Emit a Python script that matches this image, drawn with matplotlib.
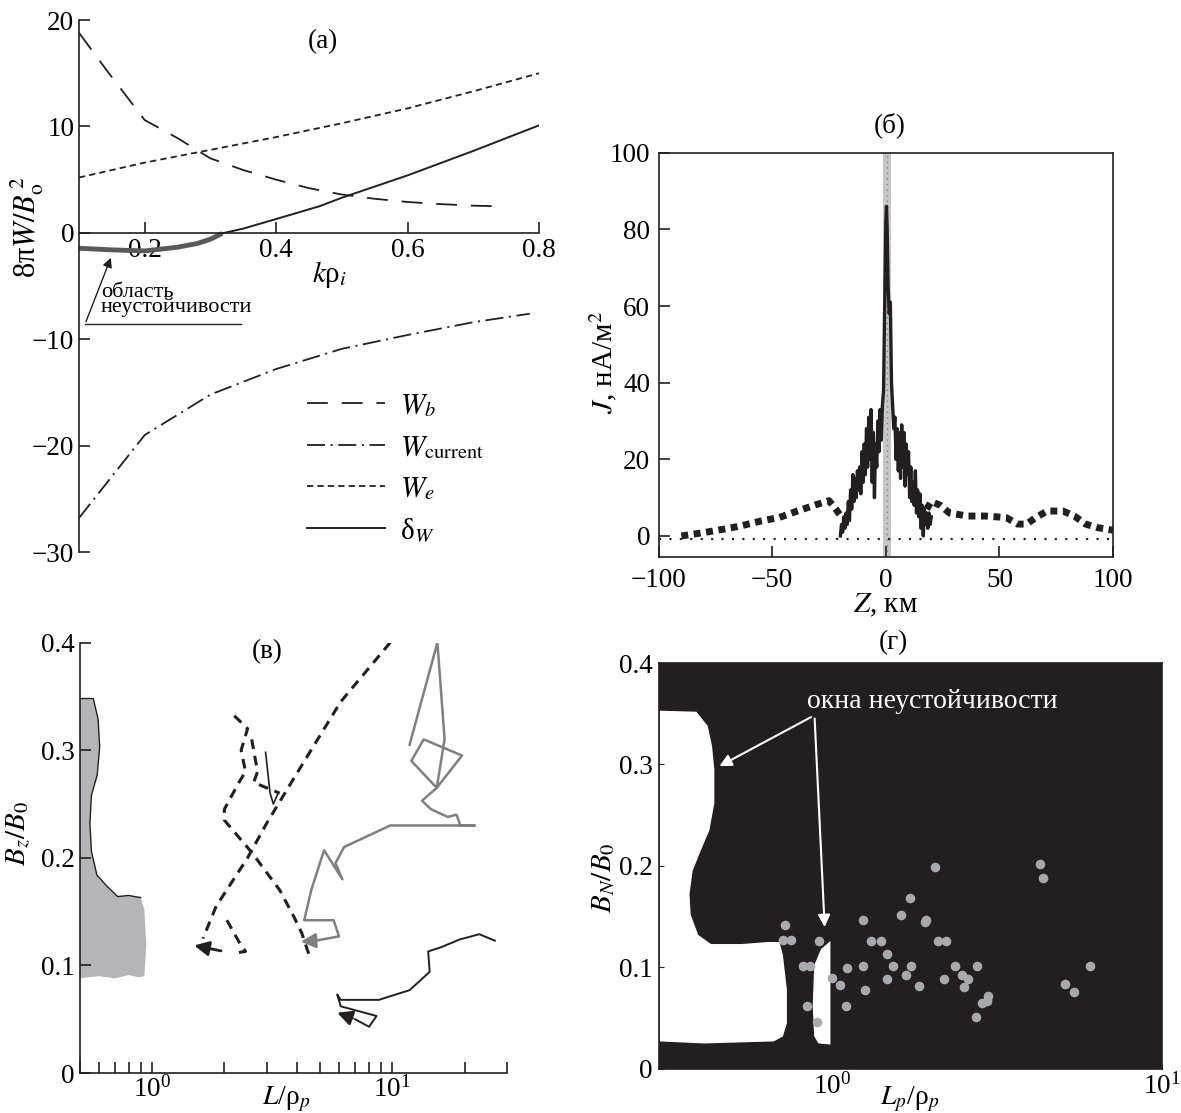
import matplotlib
matplotlib.use('Agg')
import matplotlib.pyplot as plt
import numpy as np

plt.rcParams['font.family'] = ['Liberation Serif', 'DejaVu Serif']
plt.rcParams['mathtext.fontset'] = 'stix'
plt.rcParams['font.size'] = 19.5
plt.rcParams['lines.scale_dashes'] = False

INK = '#231f20'
GRAY = '#808080'

# ---------- (а) energy components ----------
k_b = [0.1, 0.143, 0.2, 0.25, 0.3, 0.35, 0.4, 0.45, 0.5, 0.55, 0.6, 0.65, 0.7, 0.74]
W_b = [18.8, 15.2, 10.6, 8.9, 7.0, 5.9, 5.0, 4.2, 3.6, 3.2, 2.9, 2.7, 2.55, 2.5]
k_e = [0.1, 0.2, 0.3, 0.4, 0.5, 0.6, 0.7, 0.8]
W_e = [5.2, 6.6, 7.8, 9.0, 10.3, 11.7, 13.3, 15.0]
k_c = [0.1, 0.15, 0.2, 0.3, 0.4, 0.5, 0.6, 0.7, 0.786]
W_cur = [-26.8, -22.9, -19.0, -15.2, -12.8, -10.9, -9.6, -8.4, -7.6]
k_unst = [0.1, 0.15, 0.2, 0.25, 0.28, 0.3, 0.318]
dW_unst = [-1.45, -1.6, -1.7, -1.35, -1.0, -0.6, -0.05]
k_st = [0.318, 0.35, 0.4, 0.466, 0.5, 0.6, 0.7, 0.8]
dW_st = [-0.05, 0.4, 1.3, 2.5, 3.3, 5.4, 7.7, 10.1]

# ---------- (б) current density ----------
z_sheet = [-20, -19.5, -19, -18.5, -18, -17.5, -17, -16.5, -16, -15.5, -15, -14.5, -14,
           -13.5, -13, -12.5, -12, -11.5, -11, -10.5, -10, -9.5, -9, -8.5, -8, -7.5, -7,
           -6.5, -6, -5.5, -5, -4.5, -4, -3.5, -3, -2.5, -2, -1.5, -1, -0.5, 0, 0.3, 0.6,
           1, 1.5, 2, 2.5, 3, 3.5, 4, 4.5, 5, 5.5, 6, 6.5, 7, 7.5, 8, 8.5, 9, 9.5, 10,
           10.5, 11, 11.5, 12, 12.5, 13, 13.5, 14, 14.5, 15, 15.5, 16, 16.5, 17, 17.5, 18,
           18.5, 19, 19.5, 20]
j_sheet = [0, 3, 1, 5, 2, 6, 3, 9, 4, 12, 7, 16, 9, 15, 10, 17, 12, 18, 11, 22, 14, 24,
           16, 28, 18, 31, 20, 33, 14, 27, 10, 24, 18, 30, 22, 33, 25, 34, 38, 60, 82, 86,
           80, 65, 58, 61, 40, 34, 28, 31, 20, 28, 17, 27, 15, 29, 18, 27, 13, 24, 16, 22,
           10, 18, 9, 14, 8, 17, 6, 12, 5, 11, 2, 8, 0, 7, 3, 6, 2, 6, 3, 5]
z_avg_left = [-90, -80, -72, -64, -55, -47, -39, -30, -25, -22, -19]
j_avg_left = [0, 0.9, 1.7, 2.6, 3.9, 4.8, 6.5, 8.3, 9.2, 7.0, 4.5]
z_avg_right = [18, 20, 24, 28, 36, 44, 53, 58, 62, 66, 71, 78, 83, 88, 93, 100]
j_avg_right = [7, 9, 8, 6, 5.2, 5.2, 4.8, 3.1, 3.1, 4.8, 6.5, 6.5, 5.2, 3.1, 2.2, 1.5]

# ---------- (в) trajectories ----------
win_L = [0.5, 0.57, 0.597, 0.606, 0.592, 0.56, 0.552, 0.56, 0.59, 0.647, 0.72, 0.80, 0.897,
         0.93, 0.947, 0.93, 0.88, 0.8, 0.7, 0.6, 0.5]
win_B = [0.348, 0.348, 0.329, 0.303, 0.277, 0.258, 0.232, 0.206, 0.184, 0.174, 0.164, 0.165,
         0.163, 0.152, 0.119, 0.09, 0.089, 0.091, 0.088, 0.09, 0.088]
dash1_L = [9.8, 6.1, 3.8, 3.0, 2.5, 1.85, 1.63]
dash1_B = [0.40, 0.345, 0.27, 0.232, 0.20, 0.155, 0.125]
dash2_L = [2.2, 2.5, 2.35, 2.45, 2.3, 2.0, 2.0, 2.6, 3.4, 3.9, 4.2, 4.5]
dash2_B = [0.332, 0.32, 0.30, 0.28, 0.27, 0.245, 0.235, 0.205, 0.17, 0.145, 0.13, 0.11]
dash3_L = [2.6, 2.75, 2.65, 3.4]
dash3_B = [0.31, 0.28, 0.27, 0.26]
dash4_L = [2.05, 2.3, 2.45, 2.3]
dash4_B = [0.142, 0.122, 0.113, 0.112]
thin_L = [2.97, 3.1, 3.2, 3.35]
thin_B = [0.298, 0.26, 0.25, 0.26]
gray_L = [11.8, 15.4, 16.5, 15.3, 12.0, 13.5, 19.5, 15.3, 13.3, 14.5, 17.0, 18.5, 19.2, 22.0,
          9.8, 6.3, 5.8, 6.2, 5.2, 4.6, 4.3, 5.7, 6.0, 4.8]
gray_B = [0.305, 0.40, 0.31, 0.265, 0.29, 0.31, 0.295, 0.265, 0.253, 0.245, 0.238, 0.24, 0.23,
          0.23, 0.23, 0.21, 0.195, 0.18, 0.207, 0.17, 0.142, 0.142, 0.127, 0.123]
black_L = [26.7, 23.0, 19.0, 16.0, 14.1, 14.3, 11.8, 10.0, 8.8, 6.1, 5.9, 6.1, 8.6, 8.0, 7.0]
black_B = [0.123, 0.129, 0.124, 0.117, 0.113, 0.094, 0.077, 0.072, 0.068, 0.068, 0.073, 0.062,
           0.053, 0.043, 0.05]

# ---------- (г) instability windows and observations ----------
w1_L = [0.3, 0.388, 0.42, 0.433, 0.44, 0.44, 0.425, 0.40, 0.378, 0.37, 0.373, 0.393, 0.43,
        0.532, 0.64, 0.693, 0.71, 0.73, 0.73, 0.71, 0.666, 0.41, 0.3]
w1_B = [0.353, 0.352, 0.338, 0.318, 0.295, 0.262, 0.235, 0.215, 0.195, 0.172, 0.152, 0.132,
        0.123, 0.123, 0.125, 0.125, 0.112, 0.078, 0.045, 0.032, 0.027, 0.025, 0.027]
w2_L = [0.989, 0.926, 0.883, 0.874, 0.883, 0.91, 0.989]
w2_B = [0.126, 0.118, 0.102, 0.062, 0.032, 0.025, 0.024]
obs_L = [0.711, 0.72, 0.75, 0.816, 0.856, 0.838, 0.902, 0.914, 1.0, 1.057, 1.114, 1.10, 1.238,
         1.245, 1.255, 1.31, 1.406, 1.47, 1.47, 1.53, 1.62, 1.677, 1.72, 1.735, 1.83, 1.91,
         1.93, 2.05, 2.09, 2.18, 2.21, 2.36, 2.47, 2.52, 2.58, 2.73, 2.75, 2.84, 2.94, 2.97,
         4.26, 4.37, 5.08, 5.43, 6.06]
obs_B = [0.127, 0.142, 0.127, 0.101, 0.101, 0.062, 0.046, 0.126, 0.09, 0.083, 0.099, 0.062,
         0.101, 0.147, 0.078, 0.126, 0.126, 0.113, 0.089, 0.101, 0.152, 0.092, 0.168, 0.101,
         0.082, 0.145, 0.147, 0.199, 0.126, 0.089, 0.126, 0.101, 0.092, 0.081, 0.089, 0.051,
         0.101, 0.065, 0.067, 0.072, 0.202, 0.188, 0.084, 0.076, 0.101]


def style_spines(ax):
    for s in ax.spines.values():
        s.set_color(INK)
        s.set_linewidth(1.2)


fig = plt.figure(figsize=(11.81, 11.13), dpi=100, facecolor='white')

# ===== (а) =====
ax = fig.add_axes([0.0669, 0.504, 0.3895, 0.478])
style_spines(ax)
ax.spines['top'].set_visible(False)
ax.spines['right'].set_visible(False)
ax.spines['bottom'].set_position(('data', 0))
ax.plot(k_b, W_b, color=INK, lw=1.3, dashes=(15, 10), label='$W_b$')
ax.plot(k_c, W_cur, color=INK, lw=1.3, dashes=(13, 4, 1.5, 4), label='$W_{\\mathrm{current}}$')
ax.plot(k_e, W_e, color=INK, lw=1.3, dashes=(4.5, 3), label='$W_e$')
ax.plot(k_st, dW_st, color=INK, lw=1.4, label='δ$_W$')
ax.plot(k_unst, dW_unst, color='#58595b', lw=3.5, solid_capstyle='butt')
ax.set_xlim(0.1, 0.8)
ax.set_ylim(-30, 20)
ax.set_xticks([0.2, 0.4, 0.6, 0.8])
ax.set_yticks([20, 10, 0, -10, -20, -30])
ax.tick_params(direction='in', length=8, width=1.2, color=INK)
ax.tick_params(axis='x', pad=4)
ax.set_ylabel('8π$W/B_{\\mathrm{o}}^{\\,2}$', fontsize=22)
ax.yaxis.set_label_coords(-0.072, 0.61)
ax.text(0.482, -3.95, '$k$ρ$_i$', ha='center', va='center', fontsize=21)
ax.text(0.471, 18.0, '(a)', ha='center', va='center')
ax.annotate('', xy=(0.15, -2.1), xytext=(0.109, -8.6),
            arrowprops=dict(arrowstyle='-|>', color=INK, lw=1.0, mutation_scale=14))
ax.plot([0.109, 0.347], [-8.6, -8.6], color=INK, lw=1.0)
ax.text(0.133, -7.95, 'область\nнеустойчивости', fontsize=16, linespacing=0.72,
        ha='left', va='bottom')
ax.legend(loc='upper left', bbox_to_anchor=(0.495, 0.3), frameon=False, borderpad=0,
          borderaxespad=0, handlelength=2.7, handletextpad=0.5, labelspacing=0.5,
          fontsize=21)

# ===== (б) =====
ax = fig.add_axes([0.5577, 0.4995, 0.3847, 0.3633])
style_spines(ax)
ax.axvspan(-1.3, 2.2, color='#c6c6c8', lw=0)
ax.axvline(0.45, color=GRAY, lw=1.0, ls=(0, (1, 3)))
ax.axhline(-0.7, color=INK, lw=1.6, ls=(0, (1.5, 6)))
ax.plot(z_avg_left, j_avg_left, color=INK, lw=5, ls=(0, (5, 4)), dash_capstyle='butt')
ax.plot(z_avg_right, j_avg_right, color=INK, lw=5, ls=(0, (5, 4)), dash_capstyle='butt')
ax.plot(z_sheet, j_sheet, color=INK, lw=2.4)
ax.set_xlim(-100, 100)
ax.set_ylim(-5.5, 100)
ax.set_xticks([-100, -50, 0, 50, 100])
ax.set_yticks([0, 20, 40, 60, 80, 100])
ax.tick_params(direction='in', length=8, width=1.2, color=INK)
ax.tick_params(axis='x', pad=8)
ax.tick_params(axis='y', pad=6)
ax.set_ylabel('$J$, нА/м$^2$', fontsize=21)
ax.yaxis.set_label_coords(-0.087, 0.48)
ax.set_xlabel('$Z$, км', fontsize=21)
ax.xaxis.set_label_coords(0.5, -0.087)
ax.text(0.509, 1.0685, '(б)', transform=ax.transAxes, ha='center', va='center')

# ===== (в) =====
ax = fig.add_axes([0.0674, 0.0359, 0.3619, 0.3868])
style_spines(ax)
ax.spines['top'].set_visible(False)
ax.spines['right'].set_visible(False)
ax.set_xscale('log')
ax.fill(win_L, win_B, color='#b5b5b8', lw=0)
ax.plot(win_L[:13], win_B[:13], color=INK, lw=1.0)
ax.plot(dash1_L, dash1_B, color=INK, lw=2.2, dashes=(7, 5))
ax.plot(dash2_L, dash2_B, color=INK, lw=2.2, dashes=(7, 5))
ax.plot(dash3_L, dash3_B, color=INK, lw=2.2, dashes=(7, 5))
ax.plot(dash4_L, dash4_B, color=INK, lw=2.2, dashes=(7, 5))
ax.plot(thin_L, thin_B, color=INK, lw=1.2)
ax.plot(gray_L, gray_B, color=GRAY, lw=1.8)
ax.plot(black_L, black_B, color=INK, lw=1.4)
arrow_kw = dict(arrowstyle='-|>', lw=2.0, mutation_scale=22)
ax.annotate('', xy=(1.46, 0.119), xytext=(1.99, 0.113), arrowprops=dict(color=INK, **arrow_kw))
ax.annotate('', xy=(4.05, 0.122), xytext=(4.8, 0.123), arrowprops=dict(color=GRAY, **arrow_kw))
ax.annotate('', xy=(5.75, 0.057), xytext=(7.0, 0.05), arrowprops=dict(color=INK, **arrow_kw))
ax.set_xlim(0.5, 30)
ax.set_ylim(0, 0.4)
ax.set_yticks([0, 0.1, 0.2, 0.3, 0.4])
ax.set_yticklabels(['0', '0.1', '0.2', '0.3', '0.4'])
ax.tick_params(which='both', direction='in', length=8, width=1.2, color=INK)
ax.tick_params(axis='x', which='both', pad=2)
ax.set_ylabel('$B_z/B_0$', fontsize=21)
ax.yaxis.set_label_coords(-0.109, 0.556)
ax.set_xlabel('$L$/ρ$_p$', fontsize=20)
ax.xaxis.set_label_coords(0.484, -0.027)
ax.text(0.44, 0.98, '(в)', transform=ax.transAxes, ha='center', va='center')

# ===== (г) =====
ax = fig.add_axes([0.5584, 0.0397, 0.4255, 0.3646])
style_spines(ax)
ax.set_facecolor(INK)
ax.set_xscale('log')
ax.fill(w1_L, w1_B, color='white', lw=0)
ax.fill(w2_L, w2_B, color='white', lw=0)
ax.scatter(obs_L, obs_B, s=48, color='#a7a9ac', lw=0, zorder=3)
ax.annotate('', xy=(0.448, 0.297), xytext=(0.879, 0.348),
            arrowprops=dict(arrowstyle='-|>', color='white', lw=1.5, mutation_scale=18))
ax.annotate('', xy=(0.951, 0.137), xytext=(0.885, 0.348),
            arrowprops=dict(arrowstyle='-|>', color='white', lw=1.5, mutation_scale=18))
ax.text(2.02, 0.362, 'окна неустойчивости', color='white', ha='center', va='center',
        fontsize=20)
ax.set_xlim(0.3, 10)
ax.set_ylim(0, 0.4)
ax.set_yticks([0, 0.1, 0.2, 0.3, 0.4])
ax.set_yticklabels(['0', '0.1', '0.2', '0.3', '0.4'])
ax.tick_params(which='both', direction='in', color=INK)
ax.tick_params(axis='x', pad=3)
ax.tick_params(axis='y', pad=5)
ax.set_ylabel('$B_N/B_0$', fontsize=21)
ax.yaxis.set_label_coords(-0.085, 0.471)
ax.set_xlabel('$L_p$/ρ$_p$', fontsize=20)
ax.xaxis.set_label_coords(0.4985, -0.04)
ax.text(0.466, 1.05, '(г)', transform=ax.transAxes, ha='center', va='center')

plt.savefig('out.png', dpi=100, facecolor='white')
